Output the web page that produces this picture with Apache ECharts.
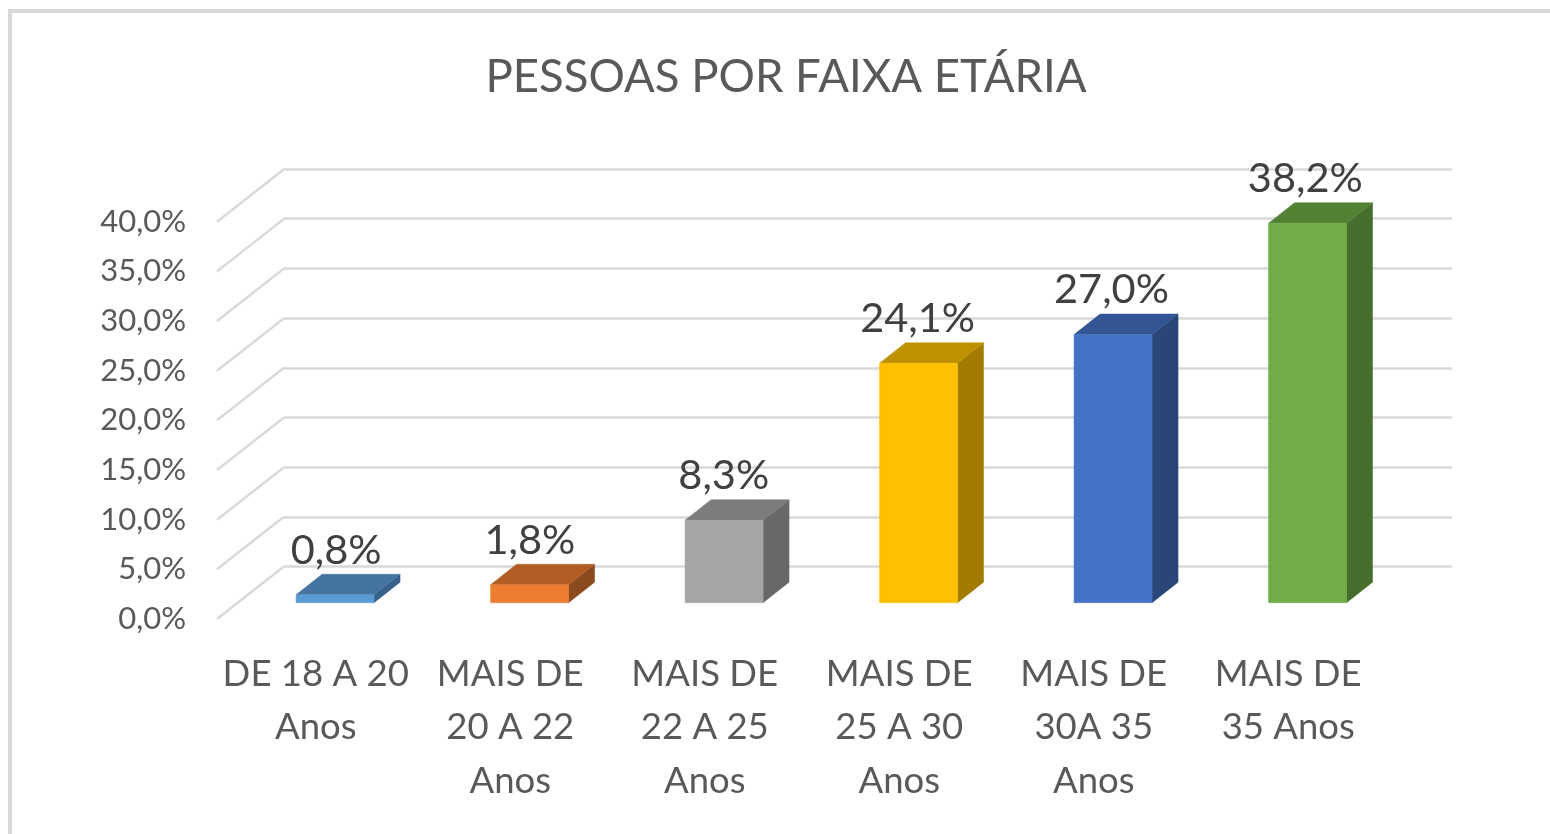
<!DOCTYPE html>
<html>
<head>
<meta charset="utf-8">
<title>Pessoas por faixa etária</title>
<script src="https://cdn.jsdelivr.net/npm/echarts@6/dist/echarts.min.js"></script>
<style>
  html, body { margin: 0; height: 100%; background: #fff; overflow: hidden; }
  .frame { position: absolute; left: 8px; top: 9px; right: 0; bottom: 0; border-left: 4px solid #d9d9d9; border-top: 4px solid #d9d9d9; }
  #chart { position: absolute; left: 0; top: 0; width: 1550px; height: 834px; }
</style>
</head>
<body>
<div class="frame"></div>
<div id="chart"></div>
<script>
const categories = ['DE 18 A 20\nAnos', 'MAIS DE\n20 A 22\nAnos', 'MAIS DE\n22 A 25\nAnos', 'MAIS DE\n25 A 30\nAnos', 'MAIS DE\n30A 35\nAnos', 'MAIS DE\n35 Anos']
const shares = [0.8, 1.8, 8.3, 24.1, 27.0, 38.2]
const yTicks = [0, 5, 10, 15, 20, 25, 30, 35, 40]

// face colours of each bar: front, top, side
const frontColors = ['#5b9bd5', '#ed7d31', '#a5a5a5', '#ffc000', '#4472c4', '#70ad47']
const topColors = ['#44749f', '#b25d24', '#7c7c7c', '#bf9000', '#335593', '#548235']
const sideColors = ['#365f8a', '#8a4a1e', '#686868', '#a37b00', '#2a4679', '#476e2c']

const FONT = 'Lato, "Open Sans", sans-serif'
const GRID_COLOR = '#d9d9d9'

// the fake 3D box: how far the floor goes back, and where bars stand on it
const WALL_DX = 67
const WALL_DY = -52.5
const BAR_SHIFT_X = 20.8
const BAR_SHIFT_Y = -16.3
const BAR_DX = 26
const BAR_DY = -20.5
const BAR_RATIO = 0.401

const fmt = (v) => v.toFixed(1).replace('.', ',') + '%'

function renderBar(params, api) {
  const i = api.value(0)
  const v = api.value(1)
  const base = api.coord([i, 0])
  const top = api.coord([i, v])
  const w = api.size([1, 0])[0] * BAR_RATIO
  const x0 = base[0] + BAR_SHIFT_X - w / 2
  const x1 = x0 + w
  const y0 = base[1] + BAR_SHIFT_Y
  const y1 = top[1] + BAR_SHIFT_Y
  const poly = (points, fill) => ({ type: 'polygon', shape: { points }, style: { fill, stroke: fill, lineWidth: 0.5 } })
  return {
    type: 'group',
    children: [
      poly([[x1, y0], [x1 + BAR_DX, y0 + BAR_DY], [x1 + BAR_DX, y1 + BAR_DY], [x1, y1]], sideColors[i]),
      poly([[x0, y1], [x1, y1], [x1 + BAR_DX, y1 + BAR_DY], [x0 + BAR_DX, y1 + BAR_DY]], topColors[i]),
      poly([[x0, y0], [x1, y0], [x1, y1], [x0, y1]], frontColors[i]),
      {
        type: 'text',
        // labels drift slightly left of their bars going right
        x: x0 + w / 2 + 1 - i * 0.65,
        y: y1 + BAR_DY - 24,
        style: { text: fmt(v), fill: '#404040', font: '400 41.5px ' + FONT, textAlign: 'center', textVerticalAlign: 'middle' },
      },
    ],
  }
}

function renderDiagonal(params, api) {
  const p = api.coord([0, api.value(0)])
  const x = p[0] - api.size([1, 0])[0] / 2
  return {
    type: 'line',
    shape: { x1: x, y1: p[1], x2: x + WALL_DX, y2: p[1] + WALL_DY },
    style: { stroke: GRID_COLOR, lineWidth: 2.5 },
  }
}

const chart = echarts.init(document.getElementById('chart'))
chart.setOption({
  animation: false,
  backgroundColor: 'transparent',
  title: {
    text: 'PESSOAS POR FAIXA ETÁRIA',
    left: 786,
    top: 77,
    padding: 0,
    textAlign: 'center',
    textVerticalAlign: 'middle',
    textStyle: { color: '#595959', fontFamily: FONT, fontSize: 45.5, fontWeight: 400 },
  },
  grid: [
    // front plane, carries the axis labels
    { left: 217, top: 221.7, width: 1167, height: 397.3 },
    // back wall, carries the gridlines
    { left: 284, top: 169, width: 1168, height: 397.7 },
  ],
  xAxis: [
    {
      type: 'category',
      data: categories,
      gridIndex: 0,
      axisLine: { show: false },
      axisTick: { show: false },
      axisLabel: { color: '#595959', fontFamily: FONT, fontSize: 36.5, lineHeight: 53.5, margin: 28, interval: 0, padding: [0, 0, 0, 3] },
    },
    { type: 'category', data: categories, gridIndex: 1, show: false },
  ],
  yAxis: [
    {
      type: 'value',
      gridIndex: 0,
      min: yTicks[0],
      max: yTicks[yTicks.length - 1],
      interval: yTicks[1] - yTicks[0],
      axisLine: { show: false },
      axisTick: { show: false },
      splitLine: { show: false },
      axisLabel: { color: '#595959', fontFamily: FONT, fontSize: 31, margin: 31, padding: [3, 0, 0, 0], formatter: fmt },
    },
    {
      type: 'value',
      gridIndex: 1,
      min: yTicks[0],
      max: yTicks[yTicks.length - 1],
      interval: yTicks[1] - yTicks[0],
      axisLine: { show: false },
      axisTick: { show: false },
      axisLabel: { show: false },
      splitLine: { show: true, lineStyle: { color: GRID_COLOR, width: 2.5 } },
    },
  ],
  series: [
    {
      type: 'custom',
      xAxisIndex: 0,
      yAxisIndex: 0,
      renderItem: renderDiagonal,
      encode: { y: 0 },
      data: yTicks.map((t) => [t]),
      silent: true,
      clip: false,
    },
    {
      type: 'custom',
      xAxisIndex: 0,
      yAxisIndex: 0,
      renderItem: renderBar,
      encode: { x: 0, y: 1 },
      data: shares.map((v, i) => [i, v]),
      z: 5,
      clip: false,
    },
  ],
})
</script>
</body>
</html>
